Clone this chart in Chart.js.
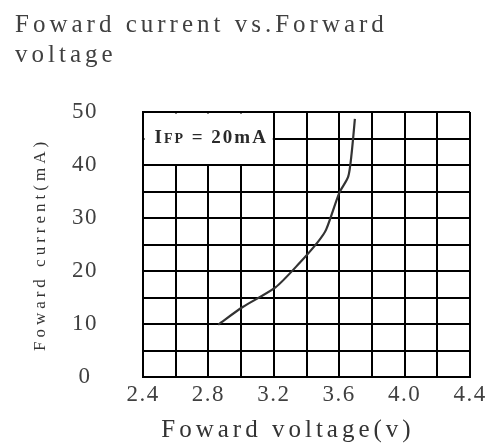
<!DOCTYPE html>
<html>
<head>
<meta charset="utf-8">
<script src="https://cdn.jsdelivr.net/npm/chart.js@4/dist/chart.umd.min.js"></script>
<style>
  html, body { margin: 0; padding: 0; background: #fff; }
</style>
</head>
<body>
<canvas id="ivChart" width="487" height="443"></canvas>
<script>
// curve
const forwardVoltage = [2.86, 3.01, 3.21, 3.36, 3.47, 3.52, 3.60, 3.655, 3.676, 3.696];
const forwardCurrent = [9.9, 13.2, 16.9, 21.6, 25.5, 27.8, 34.7, 37.8, 42.2, 48.7];
const voltageRange = [2.4, 4.4];
const currentRange = [0, 50];
const chartTitle = ['Foward current vs.Forward', 'voltage'];
const xTitle = 'Foward voltage(v)';
const yTitle = 'Foward current(mA)';
const noteBox = { x: [2.4, 3.2], y: [40, 50] };

const serif = "'Liberation Serif', 'Times New Roman', serif";
const textGray = '#404040';

// the scan has wide spaced type: titles get more, tick labels less
const spacing = {
    id: 'spacing',
    beforeUpdate: (chart) => { chart.ctx.letterSpacing = '1.5px'; },
    beforeDraw: (chart) => { chart.ctx.letterSpacing = '4px'; },
    beforeDatasetsDraw: (chart) => { chart.ctx.letterSpacing = '1.5px'; }
};

// white box with the IFP note over the top left cells, x title under the axis
const annotations = {
    id: 'annotations',
    beforeDatasetsDraw: (chart) => {
        const ctx = chart.ctx;
        const xs = chart.scales.x, ys = chart.scales.y;
        const x0 = xs.getPixelForValue(noteBox.x[0]) + 1.5;
        const x1 = xs.getPixelForValue(noteBox.x[1]) - 1;
        const y0 = ys.getPixelForValue(noteBox.y[1]) + 1.5;
        const y1 = ys.getPixelForValue(noteBox.y[0]) - 1;
        ctx.save();
        ctx.fillStyle = '#fff';
        ctx.fillRect(x0, y0, x1 - x0, y1 - y0);
        ctx.fillStyle = '#2a2a2a';
        ctx.textBaseline = 'alphabetic';
        ctx.letterSpacing = '2px';
        let tx = x0 + 10;
        const ty = y0 + 29;
        ctx.font = 'bold 19px ' + serif;
        ctx.fillText('I', tx, ty);
        tx += ctx.measureText('I').width;
        ctx.font = 'bold 14px ' + serif;
        ctx.fillText('FP', tx, ty);
        tx += ctx.measureText('FP').width;
        ctx.font = 'bold 19px ' + serif;
        ctx.fillText(' = 20mA', tx, ty);
        ctx.restore();
    },
    afterDraw: (chart) => {
        const ctx = chart.ctx;
        const area = chart.chartArea;
        ctx.save();
        ctx.letterSpacing = '4px';
        ctx.font = '25px ' + serif;
        ctx.fillStyle = '#333';
        ctx.textAlign = 'center';
        ctx.textBaseline = 'middle';
        ctx.fillText(xTitle, area.left + 145, area.bottom + 53);
        ctx.restore();
    }
};

const points = forwardVoltage.map((v, i) => ({ x: v, y: forwardCurrent[i] }));

new Chart(document.getElementById('ivChart').getContext('2d'), {
    type: 'line',
    data: {
        datasets: [{
            data: points,
            borderColor: '#333',
            borderWidth: 2.2,
            pointRadius: 0,
            tension: 0.25,
            fill: false
        }]
    },
    options: {
        responsive: false,
        animation: false,
        layout: { padding: { left: 15, right: 0, top: 0, bottom: 0 } },
        plugins: {
            legend: { display: false },
            tooltip: { enabled: false },
            title: {
                display: true,
                text: chartTitle,
                align: 'start',
                color: textGray,
                font: { family: serif, size: 25, weight: 'normal', lineHeight: 1.2 },
                padding: { top: 10, bottom: 42 }
            }
        },
        scales: {
            x: {
                type: 'linear',
                min: voltageRange[0],
                max: voltageRange[1],
                grid: { color: '#000', lineWidth: 2, drawTicks: false },
                border: { color: '#000', width: 2 },
                afterFit: (scale) => {
                    scale.height = 66;
                    scale.paddingRight = 17;
                },
                ticks: {
                    z: 1,
                    stepSize: 0.2,
                    autoSkip: false,
                    maxRotation: 0,
                    padding: 4,
                    color: textGray,
                    font: { family: serif, size: 23 },
                    callback: (value, index) => index % 2 === 0 ? Number(value).toFixed(1) : ''
                }
            },
            y: {
                min: currentRange[0],
                max: currentRange[1],
                grid: { color: '#000', lineWidth: 2, drawTicks: false },
                border: { color: '#000', width: 2 },
                afterFit: (scale) => { scale.width = 128; },
                ticks: {
                    z: 1,
                    stepSize: 5,
                    autoSkip: false,
                    padding: 45,
                    crossAlign: 'center',
                    color: textGray,
                    font: { family: serif, size: 23 },
                    callback: (value) => value % 10 === 0 ? value : ''
                },
                title: {
                    display: true,
                    text: yTitle,
                    color: '#333',
                    font: { family: serif, size: 17 },
                    padding: { top: 15, bottom: 0 }
                }
            }
        }
    },
    plugins: [spacing, annotations]
});
</script>
</body>
</html>
